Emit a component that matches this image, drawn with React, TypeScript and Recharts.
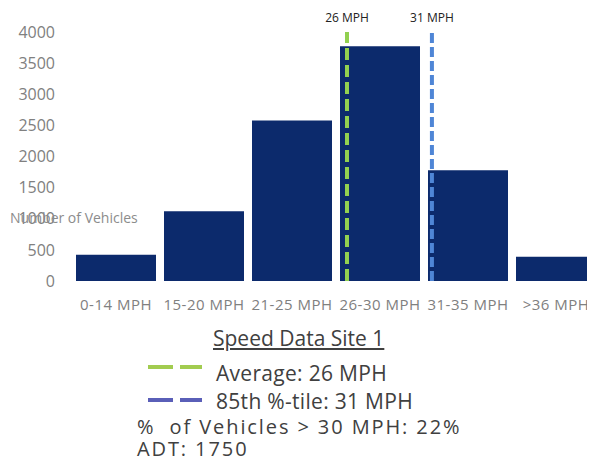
import { BarChart, Bar, XAxis, YAxis, ReferenceLine } from "recharts";

const speedBins = ["0-14 MPH", "15-20 MPH", "21-25 MPH", "26-30 MPH", "31-35 MPH", ">36 MPH"];
const vehicleCounts = [420, 1120, 2580, 3770, 1780, 390];
const yTicks = [0, 500, 1000, 1500, 2000, 2500, 3000, 3500, 4000];

// speed markers, placed on a 0..6 scale across the six bins
const markerLabels = ["26 MPH", "31 MPH"];
const markerPositions = [3.125, 4.09];
const markerColors = ["#92d050", "#4f86d6"];
const markerDashes = ["12 5", "10 4"];

const legendTitle = "Speed Data Site 1";
const legendItems = ["Average: 26 MPH", "85th %-tile: 31 MPH"];
const legendSwatches = ["#a2cc50", "#5a5fb8"];
const statLines = ["%  of Vehicles > 30 MPH: 22%", "ADT: 1750"];

const data = speedBins.map((bin, i) => ({ bin, slot: i + 0.5, count: vehicleCounts[i] }));

const FONT = "'Open Sans', sans-serif";

const App = () => {
  return (
    <div
      style={{
        position: "relative",
        width: 595,
        height: 465,
        margin: -8,
        overflow: "hidden",
        background: "#fff",
        fontFamily: FONT,
      }}
    >
      <BarChart
        width={600}
        height={325}
        data={data}
        margin={{ top: 32, right: 0, bottom: 0, left: 0 }}
        barCategoryGap={4}
      >
        <XAxis
          dataKey="bin"
          axisLine={false}
          tickLine={false}
          tickMargin={12}
          height={44}
          interval={0}
          tick={{ fill: "#808080", fontSize: 15, letterSpacing: 0.5, fontFamily: FONT }}
        />
        <XAxis
          xAxisId="pos"
          dataKey="slot"
          type="number"
          domain={[0, 6]}
          allowDataOverflow
          hide
        />
        <YAxis
          width={72}
          domain={[0, 4000]}
          ticks={yTicks}
          axisLine={false}
          tickLine={false}
          tickMargin={11}
          tick={{ fill: "#808080", fontSize: 16, fontFamily: FONT }}
          label={{
            value: "Number of Vehicles",
            position: "insideLeft",
            dx: 5,
            dy: 62,
            fill: "#8c8c8c",
            fontSize: 14,
            fontFamily: FONT,
          }}
        />
        <Bar dataKey="count" fill="#0c2a6c" isAnimationActive={false} />
        {markerPositions.map((pos, i) => (
          <ReferenceLine
            key={markerLabels[i]}
            xAxisId="pos"
            x={pos}
            stroke={markerColors[i]}
            strokeWidth={4}
            strokeDasharray={markerDashes[i]}
            label={{
              value: markerLabels[i],
              position: "top",
              offset: 10,
              fill: "#222",
              fontSize: 12,
              fontFamily: FONT,
            }}
          />
        ))}
      </BarChart>

      <div
        style={{
          position: "absolute",
          left: 213,
          top: 325,
          fontSize: 21,
          color: "#404040",
          textDecoration: "underline",
          lineHeight: "26px",
        }}
      >
        {legendTitle}
      </div>
      {legendItems.map((item, i) => (
        <div key={item}>
          <svg
            style={{ position: "absolute", left: 146, top: 360 + i * 33 }}
            width={58}
            height={14}
          >
            <line
              x1={2}
              y1={7}
              x2={56}
              y2={7}
              stroke={legendSwatches[i]}
              strokeWidth={4}
              strokeDasharray="25 7"
            />
          </svg>
          <div
            style={{
              position: "absolute",
              left: 216,
              top: 361 + i * 28,
              fontSize: 21,
              letterSpacing: 0.3,
              color: "#404040",
              lineHeight: "24px",
            }}
          >
            {item}
          </div>
        </div>
      ))}
      {statLines.map((line, i) => (
        <div
          key={line}
          style={{
            position: "absolute",
            left: 137,
            top: 416 + i * 22,
            fontSize: 20,
            letterSpacing: 1.9,
            color: "#404040",
            lineHeight: "22px",
            whiteSpace: "pre",
          }}
        >
          {line}
        </div>
      ))}
    </div>
  );
};

export default App;
